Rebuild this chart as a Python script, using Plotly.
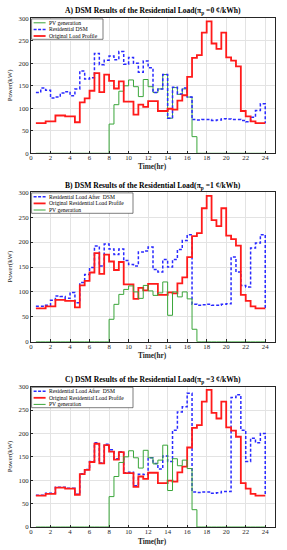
import plotly.graph_objects as go

# ---------------- data (half-hour steps, kW) ----------------
hours = [0.5, 1.0, 1.5, 2.0, 2.5, 3.0, 3.5, 4.0, 4.5, 5.0, 5.5, 6.0,
         6.5, 7.0, 7.5, 8.0, 8.5, 9.0, 9.5, 10.0, 10.5, 11.0, 11.5, 12.0,
         12.5, 13.0, 13.5, 14.0, 14.5, 15.0, 15.5, 16.0, 16.5, 17.0, 17.5, 18.0,
         18.5, 19.0, 19.5, 20.0, 20.5, 21.0, 21.5, 22.0, 22.5, 23.0, 23.5, 24.0]

original_load = [67, 67, 71, 71, 84, 84, 82, 82, 69, 113, 122, 139,
                 178, 136, 175, 161, 144, 160, 115, 115, 86, 108, 103, 116,
                 116, 94, 94, 99, 97, 117, 129, 170, 212, 218, 268, 293,
                 244, 232, 268, 213, 206, 193, 94, 82, 71, 67, 67, 67]

pv_a = [0, 0, 0, 0, 0, 0, 0, 0, 0, 0, 0, 0,
        0, 0, 0, 65, 108, 138, 150, 163, 148, 126, 164, 148,
        135, 143, 175, 78, 146, 131, 143, 125, 37, 0, 0, 0,
        0, 0, 0, 0, 0, 0, 0, 0, 0, 0, 0, 0]

pv_b = [0, 0, 0, 0, 0, 0, 0, 0, 0, 0, 0, 0,
        0, 0, 0, 45, 75, 95, 105, 112, 100, 87, 113, 102,
        93, 98, 120, 53, 100, 90, 100, 86, 25, 0, 0, 0,
        0, 0, 0, 0, 0, 0, 0, 0, 0, 0, 0, 0]

pv_c = [0, 0, 0, 0, 0, 0, 0, 0, 0, 0, 0, 0,
        0, 0, 0, 65, 108, 138, 150, 163, 148, 126, 164, 148,
        135, 143, 175, 78, 146, 131, 143, 125, 37, 0, 0, 0,
        0, 0, 0, 0, 0, 0, 0, 0, 0, 0, 0, 0]

dsm_a = [135, 145, 140, 123, 125, 134, 137, 128, 143, 183, 165, 168,
         222, 197, 207, 216, 208, 226, 198, 213, 200, 180, 205, 190,
         135, 143, 175, 78, 147, 132, 145, 125, 75, 74, 75, 75,
         73, 74, 77, 76, 75, 75, 73, 70, 80, 95, 110, 67]

dsm_b = [71, 71, 73, 83, 92, 91, 87, 99, 78, 119, 135, 149,
         192, 152, 196, 186, 175, 186, 163, 155, 152, 180, 182, 190,
         145, 140, 165, 150, 165, 185, 203, 215, 75, 73, 74, 75,
         73, 73, 75, 76, 170, 140, 113, 110, 188, 198, 215, 67]

dsm_c = [68, 68, 72, 72, 85, 85, 83, 83, 70, 114, 123, 140,
         180, 137, 177, 165, 146, 161, 116, 117, 88, 113, 112, 148,
         136, 124, 152, 140, 207, 246, 257, 286, 75, 74, 75, 75,
         72, 73, 76, 76, 277, 283, 207, 140, 190, 180, 200, 67]

titles = ["A) DSM Results of the Residential Load(\u03c0<sub>p</sub> =0 \u00a2/kWh)",
          "B) DSM Results of the Residential Load(\u03c0<sub>p</sub> =1 \u00a2/kWh)",
          "C) DSM Results of the Residential Load(\u03c0<sub>p</sub> =3 \u00a2/kWh)"]

x_ticks = [0, 2, 4, 6, 8, 10, 12, 14, 16, 18, 20, 22, 24]
y_ticks = [0, 50, 100, 150, 200, 250, 300]

# ---------------- styling ----------------
W, H = 287, 550
L, R = 31, 275
SERIF = "Liberation Serif, Times New Roman, serif"
RED = "#ff1a1a"
BLUE = "#2a2aff"
GREEN = "#3aa63a"

styles = {
    "red": dict(color=RED, width=1.8),
    "blue": dict(color=BLUE, width=1.5, dash="3px,2px"),
    "green": dict(color=GREEN, width=1.0),
}

panels = [
    dict(top=18.3, bot=153.3, xt=166.5, tt=11.5,
         series=[("PV generation", pv_a, "green"),
                 ("Residential DSM", dsm_a, "blue"),
                 ("Original Load Profile", original_load, "red")],
         lw=72),
    dict(top=192.3, bot=341.7, xt=355.5, tt=185.5,
         series=[("Residential Load After  DSM", dsm_b, "blue"),
                 ("Original Residential Load Profile", original_load, "red"),
                 ("PV generation", pv_b, "green")],
         lw=102),
    dict(top=386.7, bot=527.0, xt=541, tt=380,
         series=[("Residential Load After  DSM", dsm_c, "blue"),
                 ("Original Residential Load Profile", original_load, "red"),
                 ("PV generation", pv_c, "green")],
         lw=102),
]


def px(xp):
    return xp / W


def py(yp):
    return 1 - yp / H


fig = go.Figure()
shapes = []
annotations = []
layout_axes = {}

for i, p in enumerate(panels):
    k = "" if i == 0 else str(i + 1)
    xa, ya = "x" + k, "y" + k
    for name, vals, st in p["series"]:
        fig.add_trace(go.Scatter(x=hours, y=vals, mode="lines", name=name,
                                 line=dict(shape="hv", **styles[st]),
                                 xaxis=xa, yaxis=ya, showlegend=False,
                                 hoverinfo="skip"))
    common = dict(showline=True, mirror=True, linecolor="#262626", linewidth=0.8,
                  ticks="inside", ticklen=2.5, tickwidth=0.6, tickcolor="#262626",
                  showgrid=True, gridcolor="#e3e3e3", gridwidth=0.6, zeroline=False,
                  tickfont=dict(family=SERIF, size=6.8, color="#262626"),
                  automargin=False, fixedrange=True)
    layout_axes["xaxis" + k] = dict(domain=[px(L), px(R)], range=[0, 25],
                                    tickvals=x_ticks, anchor=ya, ticklabelstandoff=-2,
                                    **common)
    layout_axes["yaxis" + k] = dict(domain=[py(p["bot"]), py(p["top"])], range=[0, 300],
                                    tickvals=y_ticks, anchor=xa, **common)

    annotations.append(dict(text="<b>" + titles[i] + "</b>", x=px((L + R) / 2), y=py(p["tt"]),
                            xref="paper", yref="paper", showarrow=False,
                            xanchor="center", yanchor="middle",
                            font=dict(family=SERIF, size=7.6, color="black")))
    annotations.append(dict(text="<b>Time(hr)</b>", x=px((L + R) / 2), y=py(p["xt"]),
                            xref="paper", yref="paper", showarrow=False,
                            xanchor="center", yanchor="middle",
                            font=dict(family=SERIF, size=7.3, color="#262626")))
    annotations.append(dict(text="Power(kW)", x=px(9.5), y=py((p["top"] + p["bot"]) / 2),
                            xref="paper", yref="paper", showarrow=False, textangle=-90,
                            xanchor="center", yanchor="middle",
                            font=dict(family=SERIF, size=6.8, color="#262626")))

    # compact legend box
    bx0, bx1 = L + 0.6, L + p["lw"]
    by0, by1 = p["top"] + 0.6, p["top"] + 21
    shapes.append(dict(type="rect", xref="paper", yref="paper",
                       x0=px(bx0), x1=px(bx1), y0=py(by0), y1=py(by1),
                       fillcolor="white", line=dict(color="#262626", width=0.6), layer="above"))
    for j, (name, vals, st) in enumerate(p["series"]):
        ry = by0 + 3.9 + j * 6.6
        ln = dict(styles[st])
        if "dash" in ln:
            ln["dash"] = "3px,1.5px"
        shapes.append(dict(type="line", xref="paper", yref="paper",
                           x0=px(bx0 + 2), x1=px(bx0 + 14), y0=py(ry), y1=py(ry),
                           line=ln, layer="above"))
        annotations.append(dict(text=name, x=px(bx0 + 15), y=py(ry), xref="paper", yref="paper",
                                showarrow=False, xanchor="left", yanchor="middle",
                                font=dict(family=SERIF, size=5.6, color="black")))

fig.update_layout(width=W, height=H, margin=dict(l=0, r=0, t=0, b=0),
                  paper_bgcolor="white", plot_bgcolor="white",
                  shapes=shapes, annotations=annotations, showlegend=False,
                  **layout_axes)

fig.write_html("out.html", config={"displayModeBar": False},
               post_script="document.body.style.margin='0';document.body.style.overflow='hidden';")
